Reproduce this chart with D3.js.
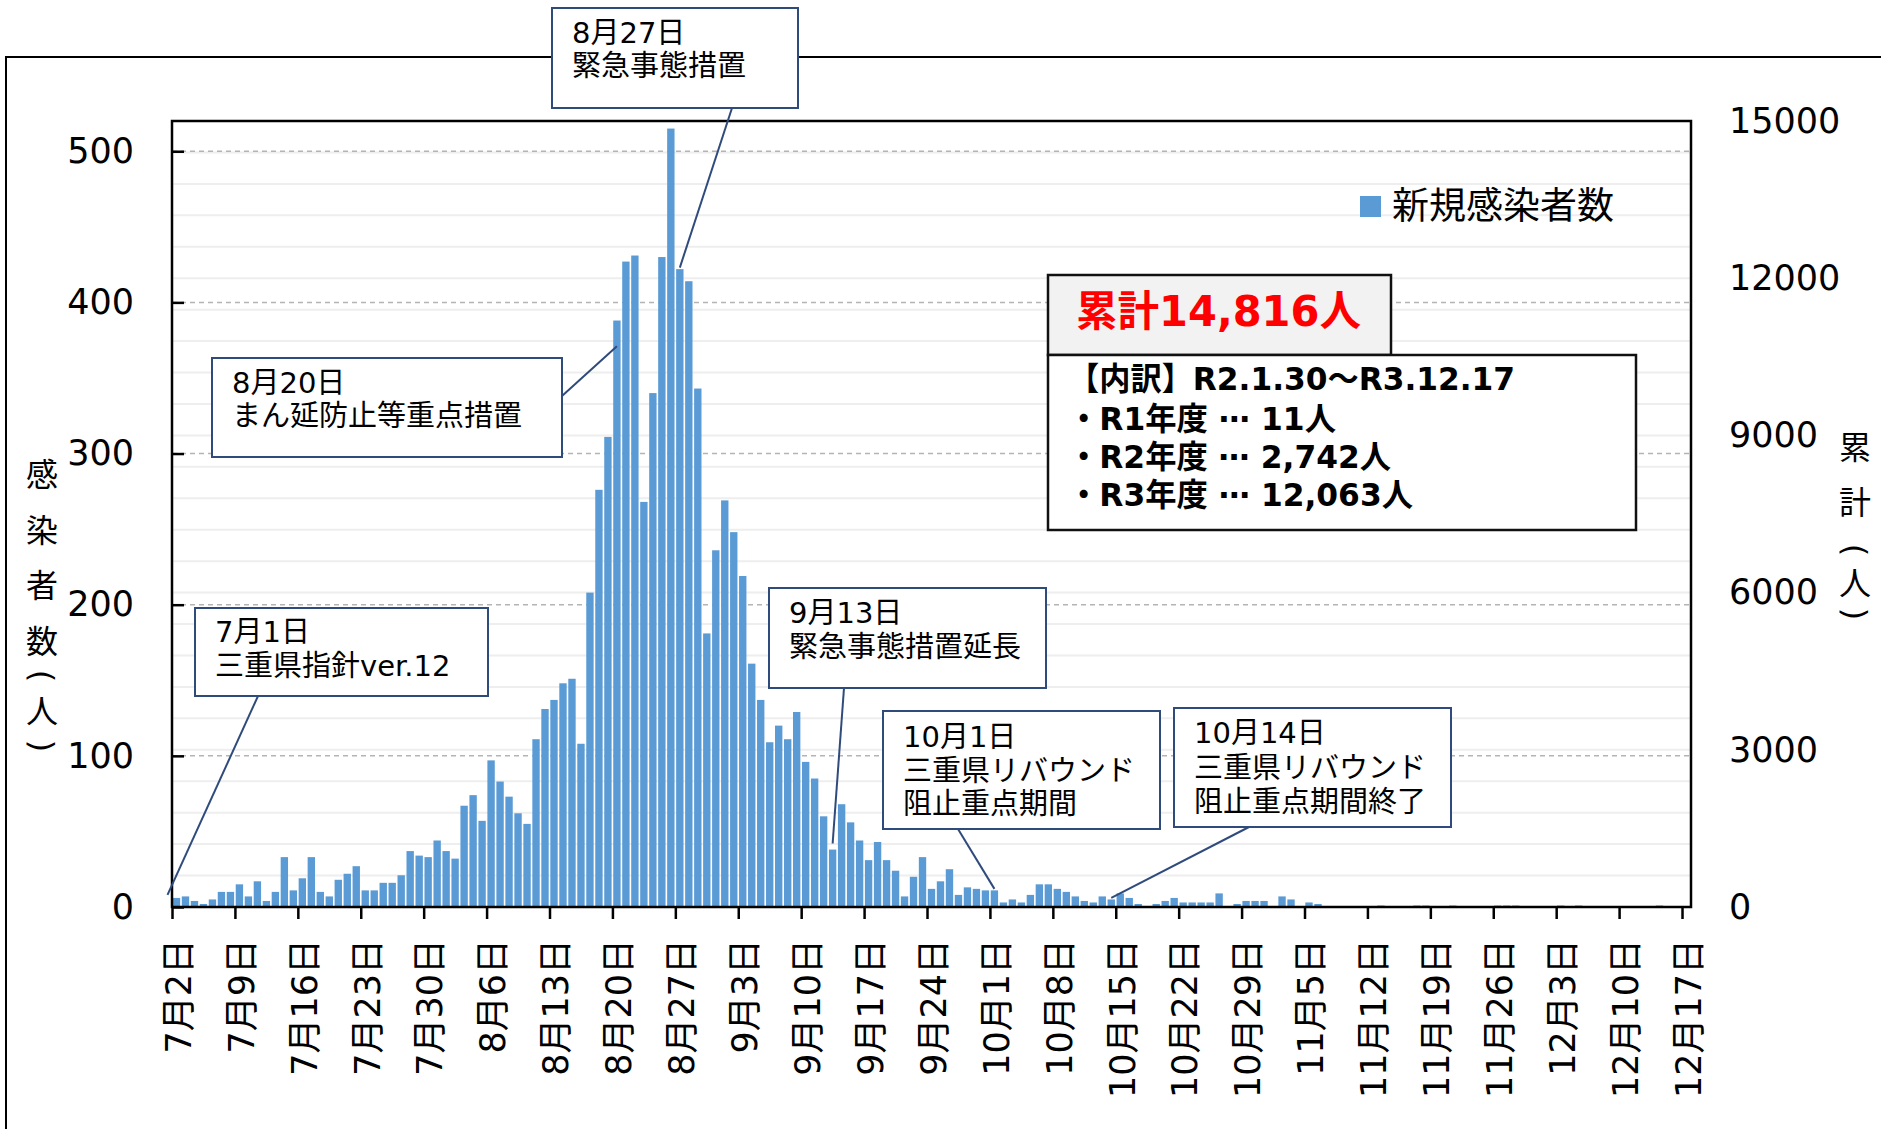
<!DOCTYPE html>
<html lang="ja">
<head>
<meta charset="utf-8">
<script src="https://cdn.jsdelivr.net/npm/d3@7"></script>
<style>
body { margin: 0; background: #fff; }
svg { display: block; }
text { font-family: 'DejaVu Sans', 'Noto Sans CJK JP', sans-serif; }
</style>
</head>
<body>
<svg id="chart" width="1881" height="1129"></svg>
<script>
/************************************************************/
/**
    data
*/
const parseDay = d3.timeParse('%Y-%m-%d');
const firstDay = parseDay('2021-07-02');
const lastDay = parseDay('2021-12-17');
const days = d3.timeDays(firstDay, d3.timeDay.offset(lastDay, 1));

// daily new cases, 7/2 .. 12/17
const newCases = [
    6, 7, 4, 2, 5, 10, 10, 15, 7, 17, 4, 10, 33, 11, 19, 33, 10, 7, 18, 22,
    27, 11, 11, 16, 16, 21, 37, 34, 33, 44, 37, 32, 67, 74, 57, 97, 83, 73, 62, 55,
    111, 131, 137, 148, 151, 108, 208, 276, 311, 388, 427, 431, 268, 340, 430, 515, 422, 414, 343, 181,
    236, 269, 248, 219, 161, 137, 109, 120, 111, 129, 96, 85, 60, 38, 68, 56, 44, 31, 43, 31,
    24, 7, 20, 33, 12, 17, 25, 8, 13, 12, 11, 11, 3, 5, 3, 8, 15, 15, 12, 10,
    7, 4, 3, 7, 5, 9, 6, 2, 0, 2, 4, 6, 3, 3, 3, 3, 9, 0, 2, 4,
    4, 4, 0, 7, 5, 0, 3, 2, 0, 0, 0, 0, 0, 0, 1, 0, 0, 0, 1, 1,
    0, 0, 1, 0, 0, 0, 0, 1, 1, 1, 0, 0, 0, 0, 1, 0, 1, 0, 0, 0,
    0, 0, 0, 0, 0, 1, 0, 0, 0
];

const leftTicks = [0, 100, 200, 300, 400, 500];
const rightTicks = [0, 3000, 6000, 9000, 12000, 15000];
const tickLabels = [
    '7月2日', '7月9日', '7月16日', '7月23日', '7月30日', '8月6日', '8月13日',
    '8月20日', '8月27日', '9月3日', '9月10日', '9月17日', '9月24日', '10月1日',
    '10月8日', '10月15日', '10月22日', '10月29日', '11月5日', '11月12日',
    '11月19日', '11月26日', '12月3日', '12月10日', '12月17日'
];
const legendLabel = '新規感染者数';
const leftTitle = ['感', '染', '者', '数', '(', '人', ')'];
const rightTitle = ['累', '計', '(', '人', ')'];
const totalLabel = '累計14,816人';
const breakdown = [
    '【内訳】R2.1.30～R3.12.17',
    '・R1年度 ⋯ 11人',
    '・R2年度 ⋯ 2,742人',
    '・R3年度 ⋯ 12,063人'
];
const notes = [
    { when: '2021-07-01', at: 8,   lines: ['7月1日', '三重県指針ver.12'] },
    { when: '2021-08-20', at: 371, lines: ['8月20日', 'まん延防止等重点措置'] },
    { when: '2021-08-27', at: 423, lines: ['8月27日', '緊急事態措置'] },
    { when: '2021-09-13', at: 42,  lines: ['9月13日', '緊急事態措置延長'] },
    { when: '2021-10-01', at: 12,  lines: ['10月1日', '三重県リバウンド', '阻止重点期間'] },
    { when: '2021-10-14', at: 6,   lines: ['10月14日', '三重県リバウンド', '阻止重点期間終了'] }
];

/************************************************************/
/**
    layout
*/
const plot = { left: 172, right: 1691, top: 121, bottom: 907 };
const noteBoxes = [
    { x: 195,  y: 608, w: 293, h: 88,  from: [258, 696],  base: [642, 676] },
    { x: 212,  y: 358, w: 350, h: 99,  from: [562, 396],  base: [393, 426] },
    { x: 552,  y: 8,   w: 246, h: 100, from: [732, 108],  base: [43, 76] },
    { x: 769,  y: 588, w: 277, h: 100, from: [844, 688],  base: [623, 657] },
    { x: 883,  y: 711, w: 277, h: 118, from: [958, 829],  base: [747, 781, 814] },
    { x: 1174, y: 708, w: 277, h: 119, from: [1249, 827], base: [743, 778, 812] }
];
const navy = '#2f4b7c';

const svg = d3.select('#chart');

const x = d3.scaleBand()
    .domain(days)
    .range([plot.left, plot.right])
    .paddingInner(0.18)
    .paddingOuter(0.09);
const xIdx = d3.scaleLinear().domain([0, days.length]).range([plot.left, plot.right]);
const yL = d3.scaleLinear().domain([0, 520]).range([plot.bottom, plot.top]);
const yR = d3.scaleLinear().domain([0, 15000]).range([plot.bottom, plot.top]);

// outer chart frame (runs off the right / bottom edge)
svg.append('rect')
    .attr('x', 6).attr('y', 57).attr('width', 1900).attr('height', 1100)
    .attr('fill', 'none').attr('stroke', '#000').attr('stroke-width', 2);

/************************************************************/
/**
    grid
*/
svg.append('g').selectAll('line')
    .data(d3.range(600, 15000, 600))
    .join('line')
    .attr('x1', plot.left).attr('x2', plot.right)
    .attr('y1', d => yR(d)).attr('y2', d => yR(d))
    .attr('stroke', '#eeeeee').attr('stroke-width', 2);

svg.append('g').selectAll('line')
    .data(leftTicks.slice(1))
    .join('line')
    .attr('x1', plot.left).attr('x2', plot.right)
    .attr('y1', d => yL(d)).attr('y2', d => yL(d))
    .attr('stroke', '#b4b4b4').attr('stroke-width', 1.5)
    .attr('stroke-dasharray', '5,4');

/************************************************************/
/**
    bars
*/
svg.append('g').selectAll('rect')
    .data(newCases)
    .join('rect')
    .attr('x', (d, i) => x(days[i]))
    .attr('width', x.bandwidth())
    .attr('y', d => yL(d))
    .attr('height', d => plot.bottom - yL(d))
    .attr('fill', '#5b9bd5');

svg.append('rect')
    .attr('x', plot.left).attr('y', plot.top)
    .attr('width', plot.right - plot.left).attr('height', plot.bottom - plot.top)
    .attr('fill', 'none').attr('stroke', '#000').attr('stroke-width', 2.5);

/************************************************************/
/**
    axes
*/
const gL = svg.append('g')
    .attr('transform', `translate(${plot.left},0)`)
    .call(d3.axisLeft(yL).tickValues(leftTicks).tickSize(-12).tickPadding(38));
gL.select('.domain').remove();
gL.selectAll('line').attr('stroke', '#000').attr('stroke-width', 2.5);
gL.selectAll('text').attr('font-size', 35).attr('fill', '#000')
    .attr('font-family', "'DejaVu Sans', sans-serif");

const gR = svg.append('g')
    .attr('transform', `translate(${plot.right},0)`)
    .call(d3.axisRight(yR).tickValues(rightTicks).tickSize(0).tickPadding(38)
        .tickFormat(d3.format('d')));
gR.select('.domain').remove();
gR.selectAll('text').attr('font-size', 35).attr('fill', '#000')
    .attr('font-family', "'DejaVu Sans', sans-serif");

const tickIdx = d3.range(0, days.length, 7);
const gX = svg.append('g')
    .attr('transform', `translate(0,${plot.bottom})`)
    .call(d3.axisBottom(xIdx).tickValues(tickIdx).tickSize(12)
        .tickFormat((d, i) => tickLabels[i]));
gX.select('.domain').remove();
gX.selectAll('line').attr('stroke', '#000').attr('stroke-width', 2.5);
gX.selectAll('text')
    .attr('font-size', 35).attr('fill', '#000')
    .attr('font-family', "'DejaVu Sans', 'Noto Sans CJK JP', sans-serif")
    .attr('transform', 'rotate(-90)')
    .attr('text-anchor', 'end')
    .attr('x', -32).attr('y', 6).attr('dy', '0.35em');

// axis titles, stacked vertically; brackets are turned to lie across the column
function stackTitle(chars, cx, ys){
    svg.append('g').selectAll('text')
        .data(chars)
        .join('text')
        .attr('x', cx).attr('y', (d, i) => ys[i])
        .attr('text-anchor', 'middle').attr('dominant-baseline', 'central')
        .attr('font-size', 32)
        .attr('font-family', d => (d === '(' || d === ')') ? "'DejaVu Sans'" : "'Noto Sans CJK JP'")
        .attr('transform', (d, i) => (d === '(' || d === ')') ? `rotate(90,${cx},${ys[i]})` : null)
        .text(d => d);
}
stackTitle(leftTitle, 42, [475, 531, 586, 642, 676, 712, 746]);
stackTitle(rightTitle, 1855, [448, 503, 550, 584, 614]);

/************************************************************/
/**
    legend
*/
svg.append('rect')
    .attr('x', 1360).attr('y', 196).attr('width', 21).attr('height', 21)
    .attr('fill', '#5b9bd5');
svg.append('text')
    .attr('x', 1392).attr('y', 219)
    .attr('font-size', 37).attr('font-family', "'Noto Sans CJK JP'")
    .text(legendLabel);

/************************************************************/
/**
    annotations
*/
const leaders = svg.append('g');
const boxes = svg.append('g');
notes.forEach((n, k) => {
    const b = noteBoxes[k];
    const di = d3.timeDay.count(firstDay, parseDay(n.when));
    leaders.append('line')
        .attr('x1', b.from[0]).attr('y1', b.from[1])
        .attr('x2', xIdx(di + 0.5)).attr('y2', yL(n.at))
        .attr('stroke', navy).attr('stroke-width', 2);
    boxes.append('rect')
        .attr('x', b.x).attr('y', b.y).attr('width', b.w).attr('height', b.h)
        .attr('fill', '#fff').attr('stroke', navy).attr('stroke-width', 2);
    n.lines.forEach((t, j) => {
        boxes.append('text')
            .attr('x', b.x + 20).attr('y', b.base[j])
            .attr('font-size', 29).attr('fill', '#000')
            .text(t);
    });
});

// total box
svg.append('rect')
    .attr('x', 1048).attr('y', 275).attr('width', 343).attr('height', 80)
    .attr('fill', '#f2f2f2').attr('stroke', '#111').attr('stroke-width', 2.5);
svg.append('text')
    .attr('x', 1076).attr('y', 326)
    .attr('font-size', 42).attr('font-weight', 'bold').attr('fill', '#ff0000')
    .attr('font-family', "'Noto Sans CJK JP'")
    .attr('textLength', 285).attr('lengthAdjust', 'spacingAndGlyphs')
    .text(totalLabel);

svg.append('rect')
    .attr('x', 1048).attr('y', 355).attr('width', 588).attr('height', 175)
    .attr('fill', '#fff').attr('stroke', '#111').attr('stroke-width', 2.5);
const breakBase = [390, 430, 468, 506];
const breakLen = [447, 268, 323, 345];
svg.append('g').selectAll('text')
    .data(breakdown)
    .join('text')
    .attr('x', 1068).attr('y', (d, i) => breakBase[i])
    .attr('font-size', 32).attr('font-weight', 'bold')
    .attr('font-family', "'Noto Sans CJK JP'")
    .attr('textLength', (d, i) => breakLen[i]).attr('lengthAdjust', 'spacingAndGlyphs')
    .text(d => d);
</script>
</body>
</html>
